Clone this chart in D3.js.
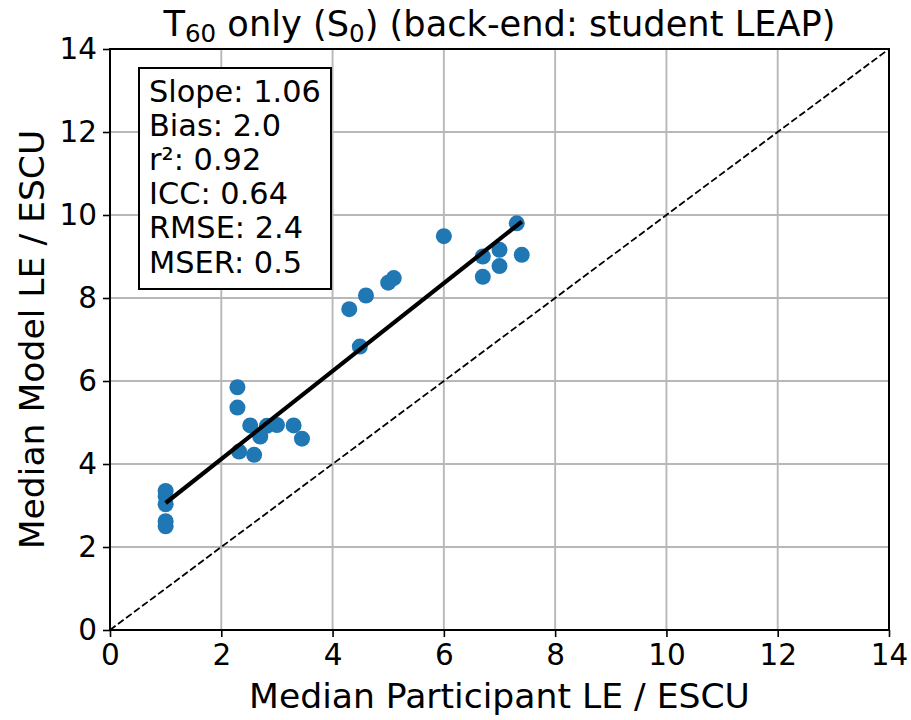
<!DOCTYPE html>
<html>
<head>
<meta charset="utf-8">
<script src="https://cdn.jsdelivr.net/npm/d3@7"></script>
<style>
  html, body { margin: 0; padding: 0; background: #fff; }
  svg { display: block; font-family: "DejaVu Sans", sans-serif; }
</style>
</head>
<body>
<div id="chart"></div>
<script>
// ---- data ----
const participantLE = [1, 1, 1, 1, 1,
  2.29, 2.29, 2.52, 2.82, 3.0, 2.70, 3.30, 3.45, 2.32, 2.59,
  4.30, 4.60, 5.0, 5.10, 4.49, 6.0, 6.70, 6.70, 7.0, 7.0, 7.31, 7.40];
const modelLE = [3.35, 3.22, 3.03, 2.62, 2.50,
  5.85, 5.36, 4.93, 4.92, 4.94, 4.66, 4.93, 4.61, 4.30, 4.22,
  7.73, 8.06, 8.37, 8.48, 6.83, 9.49, 9.00, 8.51, 9.16, 8.77, 9.80, 9.04];
const fitX = [1, 7.4];
const fitY = [3.06, 9.84];
const identityX = [0, 14];
const identityY = [0, 14];
const tickValues = [0, 2, 4, 6, 8, 10, 12, 14];
const statsLines = ["Slope: 1.06", "Bias: 2.0", "r²: 0.92", "ICC: 0.64", "RMSE: 2.4", "MSER: 0.5"];

// ---- layout ----
const W = 911, H = 720;
const mLeft = 110, mRight = 889, mTop = 49, mBottom = 630;

const svg = d3.select("#chart").append("svg").attr("width", W).attr("height", H);

const x = d3.scaleLinear().domain([0, 14]).range([mLeft, mRight]);
const y = d3.scaleLinear().domain([0, 14]).range([mBottom, mTop]);

// grid
const grid = svg.append("g");
grid.selectAll("line.gx").data(tickValues).join("line").attr("class", "gx")
  .attr("x1", d => x(d)).attr("x2", d => x(d)).attr("y1", mTop).attr("y2", mBottom)
  .attr("stroke", "#b8b8b8").attr("stroke-width", 1.9);
grid.selectAll("line.gy").data(tickValues).join("line").attr("class", "gy")
  .attr("y1", d => y(d)).attr("y2", d => y(d)).attr("x1", mLeft).attr("x2", mRight)
  .attr("stroke", "#b8b8b8").attr("stroke-width", 1.9);

// identity dashed line
const line = d3.line().x(d => x(d[0])).y(d => y(d[1]));
svg.append("path")
  .datum(identityX.map((v, i) => [v, identityY[i]]))
  .attr("d", line).attr("fill", "none").attr("stroke", "#000")
  .attr("stroke-width", 1.8).attr("stroke-dasharray", "7,3");

// points
svg.append("g").selectAll("circle").data(participantLE.map((v, i) => [v, modelLE[i]])).join("circle")
  .attr("cx", d => x(d[0])).attr("cy", d => y(d[1])).attr("r", 8)
  .attr("fill", "#1f77b4");

// fit line
svg.append("path")
  .datum(fitX.map((v, i) => [v, fitY[i]]))
  .attr("d", line).attr("fill", "none").attr("stroke", "#000")
  .attr("stroke-width", 4.2);

// axes
const xAxis = d3.axisBottom(x).tickValues(tickValues).tickSize(7).tickPadding(7).tickFormat(d3.format("d"));
const yAxis = d3.axisLeft(y).tickValues(tickValues).tickSize(7).tickPadding(6).tickFormat(d3.format("d"));
const gx = svg.append("g").attr("transform", `translate(0,${mBottom})`).call(xAxis);
const gy = svg.append("g").attr("transform", `translate(${mLeft},0)`).call(yAxis);
[gx, gy].forEach(g => {
  g.select(".domain").remove();
  g.selectAll(".tick line").attr("stroke", "#000").attr("stroke-width", 1.6);
  g.selectAll(".tick text").attr("font-size", 29.5).attr("fill", "#000")
    .attr("font-family", "DejaVu Sans");
});

// frame
svg.append("rect").attr("x", mLeft).attr("y", mTop).attr("width", mRight - mLeft).attr("height", mBottom - mTop)
  .attr("fill", "none").attr("stroke", "#000").attr("stroke-width", 2);

// stats box
const box = svg.append("g");
box.append("rect").attr("x", 139).attr("y", 68).attr("width", 192).attr("height", 221)
  .attr("fill", "#fff").attr("stroke", "#000").attr("stroke-width", 2);
box.selectAll("text").data(statsLines).join("text")
  .attr("x", 149).attr("y", (d, i) => 101.5 + i * 34.2)
  .attr("font-size", 30.4).attr("fill", "#000").text(d => d);

// axis labels
svg.append("text").attr("x", (mLeft + mRight) / 2).attr("y", 708)
  .attr("text-anchor", "middle").attr("font-size", 34.6).text("Median Participant LE / ESCU");
svg.append("text").attr("transform", `translate(44,${(mTop + mBottom) / 2}) rotate(-90)`)
  .attr("text-anchor", "middle").attr("font-size", 34.6).text("Median Model LE / ESCU");

// title
const title = svg.append("text").attr("x", (mLeft + mRight) / 2).attr("y", 36)
  .attr("text-anchor", "middle").attr("font-size", 35.2);
title.append("tspan").text("T");
title.append("tspan").attr("font-size", 24.5).attr("dy", 6).text("60");
title.append("tspan").attr("dy", -6).text(" only (S");
title.append("tspan").attr("font-size", 24.5).attr("dy", 6).text("0");
title.append("tspan").attr("dy", -6).text(") (back-end: student LEAP)");
</script>
</body>
</html>
